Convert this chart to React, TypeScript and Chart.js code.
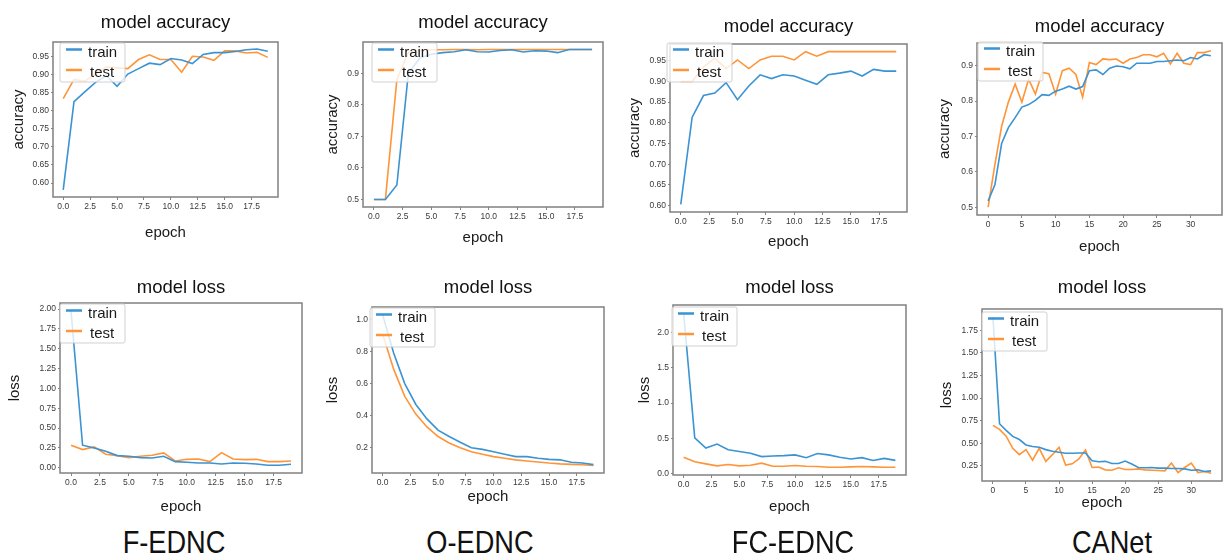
import React, { useEffect, useRef } from 'react';
import { Chart, registerables } from 'chart.js';

Chart.register(...registerables);

// ---------- data ----------
const fednAccTrain = [0.581, 0.825, 0.852, 0.878, 0.897, 0.867, 0.901, 0.916, 0.931, 0.927, 0.944, 0.940, 0.930, 0.955, 0.960, 0.960, 0.963, 0.968, 0.970, 0.964];
const fednAccTest = [0.833, 0.886, 0.881, 0.902, 0.920, 0.918, 0.916, 0.941, 0.954, 0.941, 0.941, 0.906, 0.950, 0.948, 0.939, 0.965, 0.965, 0.959, 0.961, 0.947];

const oednAccTrain = [0.500, 0.500, 0.546, 0.900, 0.948, 0.960, 0.965, 0.968, 0.974, 0.968, 0.967, 0.972, 0.974, 0.967, 0.971, 0.970, 0.965, 0.975, 0.975, 0.975];
const oednAccTest = [0.500, 0.500, 0.880, 0.965, 0.972, 0.974, 0.974, 0.975, 0.975, 0.974, 0.975, 0.975, 0.975, 0.975, 0.975, 0.975, 0.975, 0.975, 0.975, 0.975];

const fcednAccTrain = [0.603, 0.813, 0.866, 0.872, 0.897, 0.856, 0.889, 0.916, 0.907, 0.916, 0.913, 0.903, 0.893, 0.916, 0.920, 0.925, 0.913, 0.929, 0.925, 0.925];
const fcednAccTest = [0.900, 0.900, 0.935, 0.956, 0.931, 0.952, 0.931, 0.952, 0.961, 0.961, 0.952, 0.972, 0.961, 0.972, 0.972, 0.972, 0.972, 0.972, 0.972, 0.972];

const canetAccTrain = [0.518, 0.563, 0.680, 0.725, 0.753, 0.783, 0.790, 0.802, 0.818, 0.816, 0.828, 0.834, 0.842, 0.834, 0.841, 0.886, 0.888, 0.875, 0.893, 0.899, 0.897, 0.891, 0.907, 0.907, 0.907, 0.912, 0.912, 0.914, 0.916, 0.914, 0.923, 0.919, 0.931, 0.928];
const canetAccTest = [0.500, 0.620, 0.729, 0.797, 0.848, 0.797, 0.862, 0.820, 0.881, 0.877, 0.820, 0.886, 0.893, 0.875, 0.811, 0.909, 0.903, 0.919, 0.917, 0.919, 0.907, 0.919, 0.923, 0.931, 0.931, 0.925, 0.935, 0.905, 0.935, 0.907, 0.903, 0.937, 0.937, 0.942];

const fednLossTrain = [1.98, 0.283, 0.249, 0.207, 0.152, 0.143, 0.127, 0.122, 0.143, 0.076, 0.068, 0.059, 0.059, 0.046, 0.059, 0.055, 0.046, 0.030, 0.030, 0.042];
const fednLossTest = [0.283, 0.228, 0.262, 0.169, 0.152, 0.127, 0.143, 0.156, 0.186, 0.084, 0.105, 0.110, 0.076, 0.190, 0.110, 0.101, 0.105, 0.076, 0.076, 0.084];

const oednLossTrain = [1.03, 0.79, 0.60, 0.47, 0.38, 0.31, 0.27, 0.235, 0.20, 0.19, 0.175, 0.16, 0.145, 0.145, 0.135, 0.128, 0.125, 0.11, 0.105, 0.095];
const oednLossTest = [0.91, 0.69, 0.52, 0.41, 0.33, 0.27, 0.23, 0.20, 0.175, 0.16, 0.145, 0.135, 0.125, 0.118, 0.112, 0.105, 0.10, 0.097, 0.094, 0.09];

const fcednLossTrain = [2.28, 0.51, 0.364, 0.42, 0.34, 0.315, 0.29, 0.243, 0.252, 0.257, 0.267, 0.228, 0.286, 0.267, 0.233, 0.209, 0.228, 0.189, 0.218, 0.19];
const fcednLossTest = [0.233, 0.17, 0.14, 0.112, 0.131, 0.112, 0.121, 0.15, 0.107, 0.107, 0.117, 0.107, 0.102, 0.092, 0.092, 0.097, 0.102, 0.097, 0.092, 0.092];

const canetLossTrain = [1.90, 0.716, 0.642, 0.575, 0.541, 0.481, 0.463, 0.455, 0.429, 0.410, 0.399, 0.388, 0.388, 0.392, 0.392, 0.306, 0.295, 0.299, 0.276, 0.276, 0.302, 0.269, 0.231, 0.228, 0.231, 0.224, 0.224, 0.220, 0.220, 0.216, 0.201, 0.205, 0.187, 0.194];
const canetLossTest = [0.698, 0.653, 0.578, 0.444, 0.373, 0.429, 0.313, 0.444, 0.299, 0.373, 0.455, 0.257, 0.272, 0.325, 0.425, 0.231, 0.235, 0.205, 0.201, 0.228, 0.209, 0.209, 0.216, 0.205, 0.201, 0.198, 0.194, 0.280, 0.175, 0.231, 0.280, 0.175, 0.187, 0.168];

// ---------- tick labels ----------
const xTicks20 = [0, 2.5, 5, 7.5, 10, 12.5, 15, 17.5];
const xTicks34 = [0, 5, 10, 15, 20, 25, 30];
const yTicksAccFine = [0.60, 0.65, 0.70, 0.75, 0.80, 0.85, 0.90, 0.95];
const yTicksAccCoarse = [0.5, 0.6, 0.7, 0.8, 0.9];
const yTicksLossF = [0.00, 0.25, 0.50, 0.75, 1.00, 1.25, 1.50, 1.75, 2.00];
const yTicksLossO = [0.2, 0.4, 0.6, 0.8, 1.0];
const yTicksLossFC = [0.0, 0.5, 1.0, 1.5, 2.0];
const yTicksLossC = [0.25, 0.50, 0.75, 1.00, 1.25, 1.50, 1.75];

const methodNames = ['F-EDNC', 'O-EDNC', 'FC-EDNC', 'CANet'];
const seriesNames = ['train', 'test'];

// ---------- styling ----------
const FONT = '"Liberation Sans", Arial, Helvetica, sans-serif';
const TRAIN_COLOR = '#3a93d2';
const TEST_COLOR = '#ff9438';

type Layout = { L: number; T: number; R: number; B: number; titleY: number; ylabelX: number; epochY: number; lgDx: number; lgDy: number };

type PanelDef = {
  title: string; yLabel: string; train: number[]; test: number[];
  xTicks: number[]; xDec: number; yTicks: number[]; yDec: number; lay: Layout;
};

const panels: PanelDef[] = [
  { title: 'model accuracy', yLabel: 'accuracy', train: fednAccTrain, test: fednAccTest, xTicks: xTicks20, xDec: 1, yTicks: yTicksAccFine, yDec: 2,
    lay: { L: 53, T: 42, R: 278, B: 197, titleY: 23.3, ylabelX: 19.3, epochY: 233, lgDx: 7, lgDy: 1 } },
  { title: 'model accuracy', yLabel: 'accuracy', train: oednAccTrain, test: oednAccTest, xTicks: xTicks20, xDec: 1, yTicks: yTicksAccCoarse, yDec: 1,
    lay: { L: 363, T: 42, R: 603, B: 207, titleY: 23.3, ylabelX: 333, epochY: 238, lgDx: 9, lgDy: 1 } },
  { title: 'model accuracy', yLabel: 'accuracy', train: fcednAccTrain, test: fcednAccTest, xTicks: xTicks20, xDec: 1, yTicks: yTicksAccFine, yDec: 2,
    lay: { L: 670, T: 44, R: 907, B: 212, titleY: 26.7, ylabelX: 635, epochY: 242, lgDx: -3, lgDy: -1 } },
  { title: 'model accuracy', yLabel: 'accuracy', train: canetAccTrain, test: canetAccTest, xTicks: xTicks34, xDec: 0, yTicks: yTicksAccCoarse, yDec: 1,
    lay: { L: 977, T: 43, R: 1222, B: 215, titleY: 26.7, ylabelX: 945, epochY: 247, lgDx: 1, lgDy: -1 } },
  { title: 'model loss', yLabel: 'loss', train: fednLossTrain, test: fednLossTest, xTicks: xTicks20, xDec: 1, yTicks: yTicksLossF, yDec: 2,
    lay: { L: 60, T: 303, R: 302, B: 473, titleY: 288.3, ylabelX: 15, epochY: 507, lgDx: 0, lgDy: 1 } },
  { title: 'model loss', yLabel: 'loss', train: oednLossTrain, test: oednLossTest, xTicks: xTicks20, xDec: 1, yTicks: yTicksLossO, yDec: 1,
    lay: { L: 372, T: 307, R: 604, B: 473, titleY: 288.3, ylabelX: 333, epochY: 497, lgDx: -2, lgDy: 1 } },
  { title: 'model loss', yLabel: 'loss', train: fcednLossTrain, test: fcednLossTest, xTicks: xTicks20, xDec: 1, yTicks: yTicksLossFC, yDec: 1,
    lay: { L: 673, T: 305, R: 906, B: 475, titleY: 288.3, ylabelX: 645, epochY: 507, lgDx: -1, lgDy: 2 } },
  { title: 'model loss', yLabel: 'loss', train: canetLossTrain, test: canetLossTest, xTicks: xTicks34, xDec: 0, yTicks: yTicksLossC, yDec: 2,
    lay: { L: 982, T: 309, R: 1222, B: 481, titleY: 288.3, ylabelX: 947, epochY: 503, lgDx: 0, lgDy: 3 } },
];

const methodLabelX = [174, 480, 793, 1112];

// matplotlib-like 5% margins
function padRange(vals: number[]): [number, number] {
  const mn = Math.min(...vals);
  const mx = Math.max(...vals);
  const m = (mx - mn) * 0.05;
  return [mn - m, mx + m];
}

const TITLE_SIZE = 18.5;
const TITLE_LH = TITLE_SIZE * 1.2;
const AXT_SIZE = 15;
const AXT_LH = AXT_SIZE * 1.2;

const frameLegendPlugin = {
  id: 'frameLegend',
  afterDatasetsDraw(chart: any, _args: any, opts: any) {
    const { ctx, chartArea: a } = chart;
    ctx.save();
    ctx.strokeStyle = '#808080';
    ctx.lineWidth = 1.5;
    ctx.strokeRect(a.left, a.top, a.right - a.left, a.bottom - a.top);

    const lx = a.left + opts.dx;
    const ly = a.top + opts.dy;
    const w = 65;
    const h = 39;
    ctx.beginPath();
    if (ctx.roundRect) ctx.roundRect(lx, ly, w, h, 2);
    else ctx.rect(lx, ly, w, h);
    ctx.fillStyle = 'rgba(255,255,255,0.8)';
    ctx.fill();
    ctx.strokeStyle = 'rgba(204,204,204,0.9)';
    ctx.lineWidth = 1;
    ctx.stroke();
    chart.data.datasets.forEach((ds: any, i: number) => {
      const yLine = ly + 6.5 + i * 20.5;
      ctx.beginPath();
      ctx.strokeStyle = ds.borderColor;
      ctx.lineWidth = 2.5;
      ctx.moveTo(lx + 6, yLine);
      ctx.lineTo(lx + 22, yLine);
      ctx.stroke();
      ctx.fillStyle = '#1a1a1a';
      ctx.font = `15px ${FONT}`;
      ctx.textBaseline = 'alphabetic';
      ctx.textAlign = 'left';
      ctx.fillText(ds.label, lx + 28 + i * 2, ly + 13.5 + i * 20.5);
    });
    ctx.restore();
  },
};

function Panel({ p }: { p: PanelDef }) {
  const ref = useRef<HTMLCanvasElement | null>(null);
  const { lay } = p;
  const cLeft = Math.round(lay.ylabelX - AXT_LH / 2);
  const cTop = Math.round(lay.titleY - TITLE_LH / 2 - 2);
  const Wy = lay.L - cLeft;
  const titleH = lay.T - cTop;
  const titlePadTop = 2;
  const titlePadBottom = titleH - TITLE_LH - titlePadTop;
  const Hx = Math.round(lay.epochY - lay.B + AXT_LH / 2);
  const width = lay.R - lay.L + 2 * Wy;
  const height = titleH + (lay.B - lay.T) + Hx;

  useEffect(() => {
    if (!ref.current) return;
    const n = p.train.length;
    const xr: [number, number] = [-(n - 1) * 0.05, (n - 1) * 1.05];
    const yr = padRange([...p.train, ...p.test]);
    const tickFont = { family: FONT, size: 8.5 };
    const chart = new Chart(ref.current, {
      type: 'line',
      data: {
        datasets: [
          { label: seriesNames[0], data: p.train.map((v, i) => ({ x: i, y: v })), borderColor: TRAIN_COLOR, backgroundColor: TRAIN_COLOR, borderWidth: 1.6, pointRadius: 0, tension: 0, fill: false },
          { label: seriesNames[1], data: p.test.map((v, i) => ({ x: i, y: v })), borderColor: TEST_COLOR, backgroundColor: TEST_COLOR, borderWidth: 1.6, pointRadius: 0, tension: 0, fill: false },
        ],
      },
      options: {
        animation: false,
        responsive: false,
        layout: { padding: 0 },
        plugins: {
          legend: { display: false },
          tooltip: { enabled: false },
          title: {
            display: true, text: p.title, color: '#111',
            font: { family: FONT, size: TITLE_SIZE, weight: 'normal' },
            padding: { top: titlePadTop, bottom: titlePadBottom },
          },
          frameLegend: { dx: lay.lgDx, dy: lay.lgDy },
        } as any,
        scales: {
          x: {
            type: 'linear', position: 'bottom', min: xr[0], max: xr[1],
            afterBuildTicks: (s: any) => { s.ticks = p.xTicks.map((v) => ({ value: v })); },
            afterFit: (s: any) => { s.height = Hx; },
            ticks: { font: tickFont, color: '#3a3a3a', padding: 1.5, autoSkip: false, maxRotation: 0, callback: (v: any) => Number(v).toFixed(p.xDec) },
            grid: { display: true, drawOnChartArea: false, drawTicks: true, tickLength: 3, color: '#666', lineWidth: 0.8 },
            border: { display: false },
            title: { display: true, text: 'epoch', color: '#1a1a1a', font: { family: FONT, size: AXT_SIZE }, padding: { top: 0, bottom: 0 } },
          },
          y: {
            type: 'linear', position: 'left', min: yr[0], max: yr[1],
            afterBuildTicks: (s: any) => { s.ticks = p.yTicks.map((v) => ({ value: v })); },
            afterFit: (s: any) => { s.width = Wy; },
            ticks: { font: tickFont, color: '#3a3a3a', padding: 2, autoSkip: false, callback: (v: any) => Number(v).toFixed(p.yDec) },
            grid: { display: true, drawOnChartArea: false, drawTicks: true, tickLength: 2, color: '#666', lineWidth: 0.8 },
            border: { display: false },
            title: { display: true, text: p.yLabel, color: '#1a1a1a', font: { family: FONT, size: AXT_SIZE }, padding: { top: 0, bottom: 0 } },
          },
          yR: {
            type: 'linear', position: 'right', display: true,
            afterFit: (s: any) => { s.width = Wy; },
            ticks: { display: false },
            grid: { display: false },
            border: { display: false },
          },
        },
      } as any,
      plugins: [frameLegendPlugin as any],
    });
    return () => chart.destroy();
  }, []);

  return (
    <div style={{ position: 'absolute', left: cLeft, top: cTop, width, height }}>
      <canvas ref={ref} width={width} height={height} style={{ display: 'block', width, height }} />
    </div>
  );
}

export default function App() {
  return (
    <div style={{ position: 'absolute', left: 0, top: 0, width: 1223, height: 559, overflow: 'hidden', background: '#fff', fontFamily: FONT }}>
      {panels.map((p, i) => <Panel key={i} p={p} />)}
      {methodNames.map((name, i) => (
        <div key={name} style={{
          position: 'absolute', left: methodLabelX[i], top: 526, fontSize: 32, lineHeight: '32px',
          color: '#111', whiteSpace: 'nowrap', transform: 'translateX(-50%) scaleX(0.85)', transformOrigin: 'center',
        }}>{name}</div>
      ))}
    </div>
  );
}
